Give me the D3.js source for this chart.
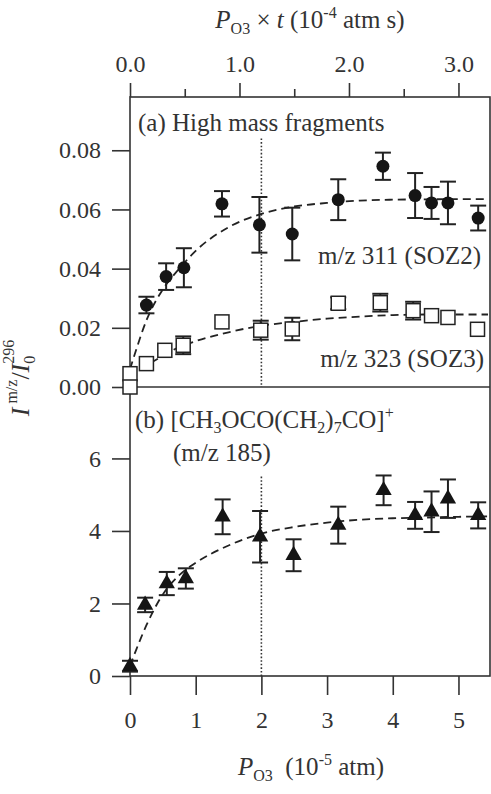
<!DOCTYPE html>
<html>
  <head>
    <meta charset="UTF-8">
    <style>
      body {
        margin: 0;
        background: white;
      }
      svg {
        font-family: "Liberation Serif", "DejaVu Serif", serif;
      }
      .tick line {
        stroke: #333;
        stroke-width: 1.6;
      }
      .tick text {
        font-family: "Liberation Serif", "DejaVu Serif", serif;
        font-size: 24px;
        fill: #333;
      }
    </style>
    <script type="text/javascript" src="https://cdn.jsdelivr.net/npm/d3@7"></script>
  </head>

  <body>
    <svg id="Chart"></svg>

    <script type="text/javascript">
      // P_O3 (10^-5 atm) values and readings, panel (a) filled circles: m/z 311
      let soz2X = [0.25, 0.55, 0.82, 1.40, 1.97, 2.47, 3.17, 3.85, 4.34, 4.59, 4.84, 5.30];
      let soz2Y = [0.0277, 0.0373, 0.0403, 0.0619, 0.0548, 0.0517, 0.0633, 0.0746, 0.0647, 0.0622, 0.0622, 0.0571];
      let soz2Err = [0.0028, 0.0045, 0.0066, 0.0043, 0.0094, 0.0089, 0.0069, 0.0046, 0.0076, 0.0054, 0.0072, 0.0042];

      // panel (a) open squares: m/z 323
      let soz3X = [0, 0, 0.25, 0.53, 0.81, 1.40, 1.99, 2.47, 3.17, 3.81, 4.31, 4.59, 4.84, 5.29];
      let soz3Y = [0.0045, 0.0, 0.0079, 0.0124, 0.0141, 0.0220, 0.0192, 0.0196, 0.0283, 0.0285, 0.0258, 0.0241, 0.0235, 0.0195];
      let soz3Err = [0, 0, 0, 0, 0.003, 0, 0.0032, 0.0038, 0.002, 0.003, 0.003, 0, 0, 0];

      // panel (b) triangles: m/z 185
      let frag185X = [0, 0.23, 0.56, 0.85, 1.41, 1.98, 2.49, 3.17, 3.86, 4.34, 4.59, 4.84, 5.30];
      let frag185Y = [0.27, 1.96, 2.55, 2.69, 4.39, 3.84, 3.33, 4.16, 5.12, 4.43, 4.53, 4.89, 4.43];
      let frag185Err = [0.15, 0.2, 0.32, 0.28, 0.48, 0.71, 0.44, 0.51, 0.41, 0.37, 0.56, 0.53, 0.36];

      // dashed fit curves
      let fitX = [0, 0.1, 0.25, 0.5, 0.75, 1, 1.5, 2, 2.5, 3, 3.5, 4, 4.5, 5, 5.45];
      let fitSoz2 = [0.006, 0.013, 0.0225, 0.033, 0.040, 0.046, 0.054, 0.0585, 0.061, 0.0622, 0.063, 0.0633, 0.0634, 0.0635, 0.0635];
      let fitSoz3 = [0.003, 0.0047, 0.0072, 0.0105, 0.0135, 0.0155, 0.0185, 0.0207, 0.022, 0.0231, 0.0238, 0.0243, 0.0245, 0.0245, 0.0245];
      let fit185 = [0.27, 0.75, 1.4, 2.25, 2.78, 3.12, 3.6, 3.93, 4.11, 4.23, 4.31, 4.35, 4.37, 4.39, 4.4];

      // axis ticks
      let bottomTicks = [0, 1, 2, 3, 4, 5];
      let topMajorTicks = [0, 1, 2, 3];
      let topMinorTicks = [0.5, 1.5, 2.5];
      let ticksA = [0, 0.02, 0.04, 0.06, 0.08];
      let ticksB = [0, 2, 4, 6];

      // vertical dotted marker at P_O3 = 2
      let markerX = 2;
      let markerTopA = 0.084;
      let markerTopB = 5.5;

      function getConfig() {
        let width = 491;
        let height = 794;
        let left = 130, right = 490, top = 97, split = 387, bottom = 676;
        let container = d3.select('#Chart')
          .attr('width', width)
          .attr('height', height)
        return {width, height, left, right, top, split, bottom, container}
      }

      function getScales(config) {
        let {left, right, top, split, bottom} = config;
        let x = d3.scaleLinear().domain([0, 5.48]).range([left, right]);
        let xTop = d3.scaleLinear().domain([0, 3.288]).range([left, right]);
        let yA = d3.scaleLinear().domain([0, 0.098]).range([split, top]);
        let yB = d3.scaleLinear().domain([0, 7.97]).range([bottom, split]);
        return {x, xTop, yA, yB}
      }

      function drawAxes(scales, config) {
        let {container, left, top, bottom} = config;
        let {x, xTop, yA, yB} = scales;

        container.append('g')
          .attr('transform', `translate(0, ${bottom})`)
          .call(d3.axisBottom(x).tickValues(bottomTicks).tickSize(19).tickPadding(16).tickFormat(d3.format('d')))

        container.append('g')
          .attr('transform', `translate(0, ${top})`)
          .call(d3.axisTop(xTop).tickValues(topMajorTicks).tickSize(14).tickPadding(11).tickFormat(d3.format('.1f')))

        container.append('g')
          .attr('transform', `translate(0, ${top})`)
          .call(d3.axisTop(xTop).tickValues(topMinorTicks).tickSize(8).tickFormat(''))

        container.append('g')
          .attr('transform', `translate(${left}, 0)`)
          .call(d3.axisLeft(yA).tickValues(ticksA).tickSize(18).tickPadding(11).tickFormat(d3.format('.2f')))

        container.append('g')
          .attr('transform', `translate(${left}, 0)`)
          .call(d3.axisLeft(yB).tickValues(ticksB).tickSize(18).tickPadding(11).tickFormat(d3.format('d')))

        container.selectAll('.domain').remove();
      }

      function drawFrame(config) {
        let {container, left, right, top, split, bottom} = config;
        container.append('rect')
          .attr('x', left)
          .attr('y', top)
          .attr('width', right - left)
          .attr('height', bottom - top)
          .attr('fill', 'none')
          .attr('stroke', '#333')
          .attr('stroke-width', 1.6)
        container.append('line')
          .attr('x1', left).attr('x2', right)
          .attr('y1', split).attr('y2', split)
          .attr('stroke', '#333')
          .attr('stroke-width', 1.6)
      }

      function drawMarkerLine(scales, config) {
        let {container, split, bottom} = config;
        let {x, yA, yB} = scales;
        let segments = [[yA(markerTopA), split], [yB(markerTopB), bottom]];
        segments.forEach(s => {
          container.append('line')
            .attr('x1', x(markerX)).attr('x2', x(markerX))
            .attr('y1', s[0]).attr('y2', s[1])
            .attr('stroke', '#333')
            .attr('stroke-width', 1.6)
            .attr('stroke-dasharray', '1.6,2')
        })
      }

      function drawFit(xs, ys, yScale, x, container) {
        let line = d3.line()
          .x((d, i) => x(xs[i]))
          .y(d => yScale(d))
          .curve(d3.curveMonotoneX)
        container.append('path')
          .attr('d', line(ys))
          .attr('fill', 'none')
          .attr('stroke', '#222')
          .attr('stroke-width', 1.8)
          .attr('stroke-dasharray', '8,5')
      }

      function drawErrorBars(xs, ys, errs, yScale, x, container) {
        let g = container.append('g')
          .attr('stroke', '#222')
          .attr('stroke-width', 2)
        xs.forEach((xv, i) => {
          if (!errs[i]) return;
          let cx = x(xv);
          let y1 = yScale(ys[i] - errs[i]);
          let y2 = yScale(ys[i] + errs[i]);
          g.append('line').attr('x1', cx).attr('x2', cx).attr('y1', y1).attr('y2', y2);
          g.append('line').attr('x1', cx - 8).attr('x2', cx + 8).attr('y1', y1).attr('y2', y1);
          g.append('line').attr('x1', cx - 8).attr('x2', cx + 8).attr('y1', y2).attr('y2', y2);
        })
      }

      function drawPoints(scales, config) {
        let {container} = config;
        let {x, yA, yB} = scales;

        drawFit(fitX, fitSoz2, yA, x, container);
        drawFit(fitX, fitSoz3, yA, x, container);
        drawFit(fitX, fit185, yB, x, container);

        drawErrorBars(soz2X, soz2Y, soz2Err, yA, x, container);
        drawErrorBars(soz3X, soz3Y, soz3Err, yA, x, container);
        drawErrorBars(frag185X, frag185Y, frag185Err, yB, x, container);

        container.selectAll('.soz2')
          .data(soz2Y)
          .enter()
          .append('circle')
          .attr('cx', (d, i) => x(soz2X[i]))
          .attr('cy', d => yA(d))
          .attr('r', 6.5)
          .attr('fill', '#151515')

        container.selectAll('.soz3')
          .data(soz3Y)
          .enter()
          .append('rect')
          .attr('x', (d, i) => x(soz3X[i]) - 7)
          .attr('y', d => yA(d) - 7)
          .attr('width', 14)
          .attr('height', 14)
          .attr('fill', 'white')
          .attr('stroke', '#222')
          .attr('stroke-width', 1.5)

        let tri = d3.symbol().type(d3.symbolTriangle).size(115);
        container.selectAll('.frag185')
          .data(frag185Y)
          .enter()
          .append('path')
          .attr('d', tri)
          .attr('transform', (d, i) => `translate(${x(frag185X[i])}, ${yB(d)})`)
          .attr('fill', '#151515')
      }

      function drawTexts(config) {
        let {container} = config;
        let txt = (px, py, anchor) => container.append('text')
          .attr('x', px)
          .attr('y', py)
          .attr('text-anchor', anchor || 'start')
          .attr('font-size', 25)
          .attr('fill', '#333')

        txt(138, 131).text('(a) High mass fragments');
        txt(481, 264, 'end').text('m/z 311 (SOZ2)');
        txt(484, 367, 'end').text('m/z 323 (SOZ3)');

        let b = txt(135, 428);
        b.append('tspan').text('(b) [CH');
        b.append('tspan').attr('font-size', 16).attr('dy', 5).text('3');
        b.append('tspan').attr('dy', -5).text('OCO(CH');
        b.append('tspan').attr('font-size', 16).attr('dy', 5).text('2');
        b.append('tspan').attr('dy', -5).text(')');
        b.append('tspan').attr('font-size', 16).attr('dy', 5).text('7');
        b.append('tspan').attr('dy', -5).text('CO]');
        b.append('tspan').attr('font-size', 16).attr('dy', -10).text('+');
        txt(173, 461).text('(m/z 185)');

        let topTitle = txt(310, 28, 'middle');
        topTitle.append('tspan').attr('font-style', 'italic').text('P');
        topTitle.append('tspan').attr('font-size', 16).attr('dy', 6).text('O3');
        topTitle.append('tspan').attr('dy', -6).text(' \u00d7 ');
        topTitle.append('tspan').attr('font-style', 'italic').text('t');
        topTitle.append('tspan').text(' (10');
        topTitle.append('tspan').attr('font-size', 16).attr('dy', -10).text('-4');
        topTitle.append('tspan').attr('dy', 10).text(' atm s)');

        let botTitle = txt(311, 775, 'middle');
        botTitle.append('tspan').attr('font-style', 'italic').text('P');
        botTitle.append('tspan').attr('font-size', 16).attr('dy', 6).text('O3');
        botTitle.append('tspan').attr('dy', -6).text('\u00a0 (10');
        botTitle.append('tspan').attr('font-size', 16).attr('dy', -10).text('-5');
        botTitle.append('tspan').attr('dy', 10).text(' atm)');

        let yTitle = container.append('text')
          .attr('transform', 'translate(29, 378) rotate(-90)')
          .attr('text-anchor', 'middle')
          .attr('font-size', 26)
          .attr('fill', '#333')
        yTitle.append('tspan').attr('font-style', 'italic').text('I');
        yTitle.append('tspan').attr('font-size', 16).attr('dy', -12).text(' m/z');
        yTitle.append('tspan').attr('dy', 12).text('/');
        yTitle.append('tspan').attr('font-style', 'italic').text('I');
        yTitle.append('tspan').attr('font-size', 16).attr('dy', 6).text('0');
        yTitle.append('tspan').attr('font-size', 16).attr('dx', -8).attr('dy', -21).text('296');
      }

      function showChart() {
        let config = getConfig();
        let scales = getScales(config);
        drawFrame(config);
        drawMarkerLine(scales, config);
        drawAxes(scales, config);
        drawPoints(scales, config);
        drawTexts(config);
      }

      showChart();
    </script>
  </body>
</html>
